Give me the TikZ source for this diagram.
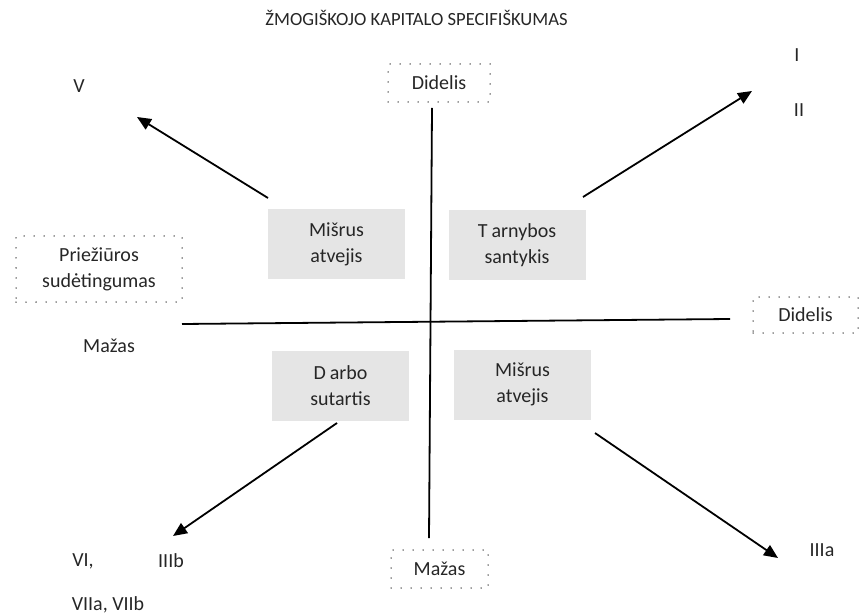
\documentclass[tikz,border=0pt]{standalone}
\usepackage{fontspec}
\setmainfont{Carlito}
\usetikzlibrary{arrows.meta,positioning}

\begin{document}
\begin{tikzpicture}[x=0.5pt, y=-0.5pt,
    font=\fontsize{10}{13}\selectfont, text=black!85,
    quad/.style={fill=gray!20, minimum width=68.5pt, minimum height=35pt, align=center, inner sep=0pt},
    dotbox/.style={draw=black!80, line width=0.75pt, line cap=round, dash pattern=on 0pt off 5pt, align=center, inner sep=0pt},
    axis/.style={line width=0.9pt},
    arr/.style={line width=0.9pt, -{Triangle[length=7pt,width=6pt]}}]
    \useasboundingbox (0,0) rectangle (865,614);

    % Title
    \node[font=\fontsize{9.3}{11}\selectfont] (title) at (416.5,18) {ŽMOGIŠKOJO KAPITALO SPECIFIŠKUMAS};

    % Axis ends
    \node[dotbox, minimum width=51pt, minimum height=19pt] (top) at (439,83) {Didelis};
    \node[dotbox, minimum width=48.5pt, minimum height=19pt] (bottom) at (439.5,569) {Mažas};
    \node[dotbox, minimum width=83pt, minimum height=33pt] (left) at (99,269) {Priežiūros\\sudėtingumas};
    \node[dotbox, minimum width=52.5pt, minimum height=18pt] (right) at (805.5,315) {Didelis};
    \node (leftlow) at (109,346) {Mažas};

    % Axes
    \coordinate (hL) at (182,324);
    \coordinate (hR) at (730,319);
    \coordinate (vT) at (432,108);
    \coordinate (vB) at (429,538);
    \draw[axis] (hL) -- (hR);
    \draw[axis] (vT) -- (vB);

    % Quadrants
    \node[quad] (mixtop) at (336.5,244) {Mišrus\\atvejis};
    \node[quad] (service) at (517,245) {T\kern2pt arnybos\\santykis};
    \node[quad] (contract) at (340.5,386) {D\kern2pt arbo\\sutartis};
    \node[quad] (mixbot) at (522.5,384.5) {Mišrus\\atvejis};

    % Arrows
    \coordinate (tlS) at (268,198);
    \coordinate (tlE) at (137,117);
    \coordinate (trS) at (583,197);
    \coordinate (trE) at (752,91);
    \coordinate (blS) at (337,423);
    \coordinate (blE) at (173,536);
    \coordinate (brS) at (595,433);
    \coordinate (brE) at (778,558);
    \draw[arr] (tlS) -- (tlE);
    \draw[arr] (trS) -- (trE);
    \draw[arr] (blS) -- (blE);
    \draw[arr] (brS) -- (brE);

    % Classes
    \node (v) at (79,86) {V};
    \node (i) at (797,55) {I};
    \node (ii) at (799,110) {II};
    \node (vi) at (83,561) {VI,};
    \node (iiib) at (171,561) {IIIb};
    \node (vii) at (108,605) {VIIa, VIIb};
    \node (iiia) at (822,550) {IIIa};
\end{tikzpicture}
\end{document}
